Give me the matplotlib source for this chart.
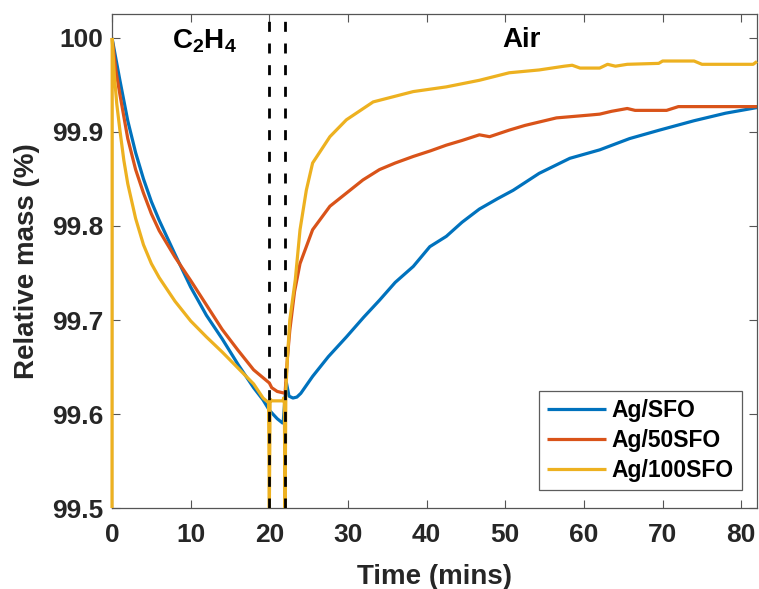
import matplotlib
matplotlib.use("Agg")
import matplotlib.pyplot as plt

plt.rcParams["font.family"] = ["Liberation Sans", "DejaVu Sans"]
plt.rcParams["font.weight"] = "bold"
plt.rcParams["mathtext.fontset"] = "custom"
plt.rcParams["mathtext.rm"] = "Liberation Sans:bold"
plt.rcParams["mathtext.bf"] = "Liberation Sans:bold"
plt.rcParams["mathtext.it"] = "Liberation Sans:bold"

# ---- data: relative mass (%) vs time (mins) ----
t_sfo = [0, 1, 2, 3, 4, 5, 6, 8, 10, 12, 14, 16, 18, 19.2, 20, 21, 21.75,
         22.15, 22.5, 23.0, 23.5, 24, 25.5, 27.5, 29.8, 32, 34, 36, 38.3, 40.4,
         42.5, 44.5, 46.7, 49, 51, 54.3, 58.2, 62, 65.8, 69.6, 74, 78, 82]
m_sfo = [100.0, 99.955, 99.912, 99.878, 99.850, 99.826, 99.806, 99.770, 99.735,
         99.705, 99.680, 99.653, 99.628, 99.615, 99.604, 99.595, 99.590,
         99.634, 99.619, 99.617, 99.618, 99.622, 99.640, 99.661, 99.682, 99.703,
         99.721, 99.740, 99.757, 99.778, 99.789, 99.804, 99.818, 99.829, 99.838,
         99.856, 99.872, 99.881, 99.893, 99.902, 99.912, 99.920, 99.926]

t_50sfo = [0, 0.5, 1, 2, 3, 4, 5, 6, 8, 10, 12, 14, 16, 18, 20, 20.3, 21, 22,
           22.3, 22.6, 23.2, 23.9, 25.5, 27.7, 29.8, 31.9, 34, 36, 38.3, 40.5,
           42.5, 44.5, 46.7, 48, 50.5, 52.5, 56.5, 60.7, 62, 63.5, 65.5, 66.5,
           70.5, 72, 82]
m_50sfo = [100.0, 99.965, 99.940, 99.893, 99.860, 99.835, 99.813, 99.795, 99.767,
           99.742, 99.716, 99.690, 99.668, 99.647, 99.633, 99.628, 99.624, 99.622,
           99.660, 99.689, 99.730, 99.760, 99.796, 99.821, 99.835, 99.849, 99.860,
           99.867, 99.874, 99.880, 99.886, 99.891, 99.897, 99.895, 99.902, 99.907,
           99.915, 99.918, 99.919, 99.922, 99.925, 99.923, 99.923, 99.927, 99.927]

t_100sfo = [0, 0.02, 0.3, 0.6, 1, 1.5, 2, 3, 4, 5, 6, 8, 10, 12, 14, 16, 18,
            19.2, 19.9, 20.0, 20.1, 20.3, 21.7, 21.9, 22.0, 22.1, 22.3, 22.6,
            23.3, 23.9, 24.7, 25.5, 27.7, 29.8, 33.2, 38.3, 42.5, 46.7, 50.5,
            54.3, 57.5, 58.5, 59.5, 62, 63, 64, 65.5, 69.5, 70, 74, 75, 81.5, 82]
m_100sfo = [99.50, 100.0, 99.960, 99.930, 99.902, 99.870, 99.845, 99.808, 99.780,
            99.760, 99.745, 99.720, 99.699, 99.682, 99.666, 99.649, 99.632,
            99.617, 99.612, 99.50, 99.616, 99.614, 99.614, 99.618, 99.50, 99.625,
            99.660, 99.700, 99.743, 99.796, 99.838, 99.867, 99.895, 99.913, 99.932,
            99.943, 99.948, 99.955, 99.963, 99.966, 99.970, 99.971, 99.968, 99.968,
            99.972, 99.970, 99.972, 99.973, 99.9755, 99.9755, 99.972, 99.972, 99.975]

series_names = ["Ag/SFO", "Ag/50SFO", "Ag/100SFO"]
series_colors = ["#0072BD", "#D95319", "#EDB120"]

switch_times = [20, 22]
x_ticks = [0, 10, 20, 30, 40, 50, 60, 70, 80]
y_ticks = [99.5, 99.6, 99.7, 99.8, 99.9, 100.0]
y_tick_labels = ["99.5", "99.6", "99.7", "99.8", "99.9", "100"]

# ---- figure ----
fig = plt.figure(figsize=(7.59, 5.89), dpi=100)
ax = fig.add_axes([0.1476, 0.1375, 0.8498, 0.8387])

data = [(t_sfo, m_sfo), (t_50sfo, m_50sfo), (t_100sfo, m_100sfo)]
for i, ((tt, mm), name, col) in enumerate(zip(data, series_names, series_colors)):
    last = (i == len(data) - 1)
    ax.plot(tt, mm, color=col, lw=2.3, label=name, solid_joinstyle="bevel",
            solid_capstyle="butt", clip_on=not last, zorder=2.6 if last else 2)

for xs in switch_times:
    ax.axvline(xs, color="black", lw=2.0, ls=(0, (3.6, 4.2)), zorder=5)

ax.set_xlim(0, 82)
ax.set_ylim(99.5, 100.0255)
ax.set_xticks(x_ticks)
ax.set_yticks(y_ticks)
ax.set_yticklabels(y_tick_labels)

ax.tick_params(direction="in", top=True, right=True, length=6, width=0.8,
               color="#555555", labelsize=19, labelcolor="#262626")
ax.tick_params(axis="x", pad=11)
ax.tick_params(axis="y", pad=6)
for lbl in ax.get_xticklabels() + ax.get_yticklabels():
    lbl.set_fontweight("bold")
for sp in ax.spines.values():
    sp.set_color("#555555")
    sp.set_linewidth(0.9)

ax.set_xlabel("Time (mins)", fontsize=20, fontweight="bold", color="#262626", labelpad=12)
ax.set_ylabel("Relative mass (%)", fontsize=20, fontweight="bold", color="#262626", labelpad=9)

ax.text(11.8, 99.997, r"$\mathregular{C_2H_4}$", fontsize=20, fontweight="bold",
        ha="center", va="center", color="black")
ax.text(52, 99.998, "Air", fontsize=20, fontweight="bold",
        ha="center", va="center", color="black")

leg = ax.legend(loc="lower right", bbox_to_anchor=(0.9767, 0.0364), borderaxespad=0,
                fontsize=16.5, frameon=True, fancybox=False, edgecolor="#333333",
                handlelength=2.6, handletextpad=0.25, labelspacing=0.3,
                borderpad=0.35)
leg.get_frame().set_linewidth(0.9)
for txt in leg.get_texts():
    txt.set_fontweight("bold")

fig.savefig("out.png", dpi=100)
